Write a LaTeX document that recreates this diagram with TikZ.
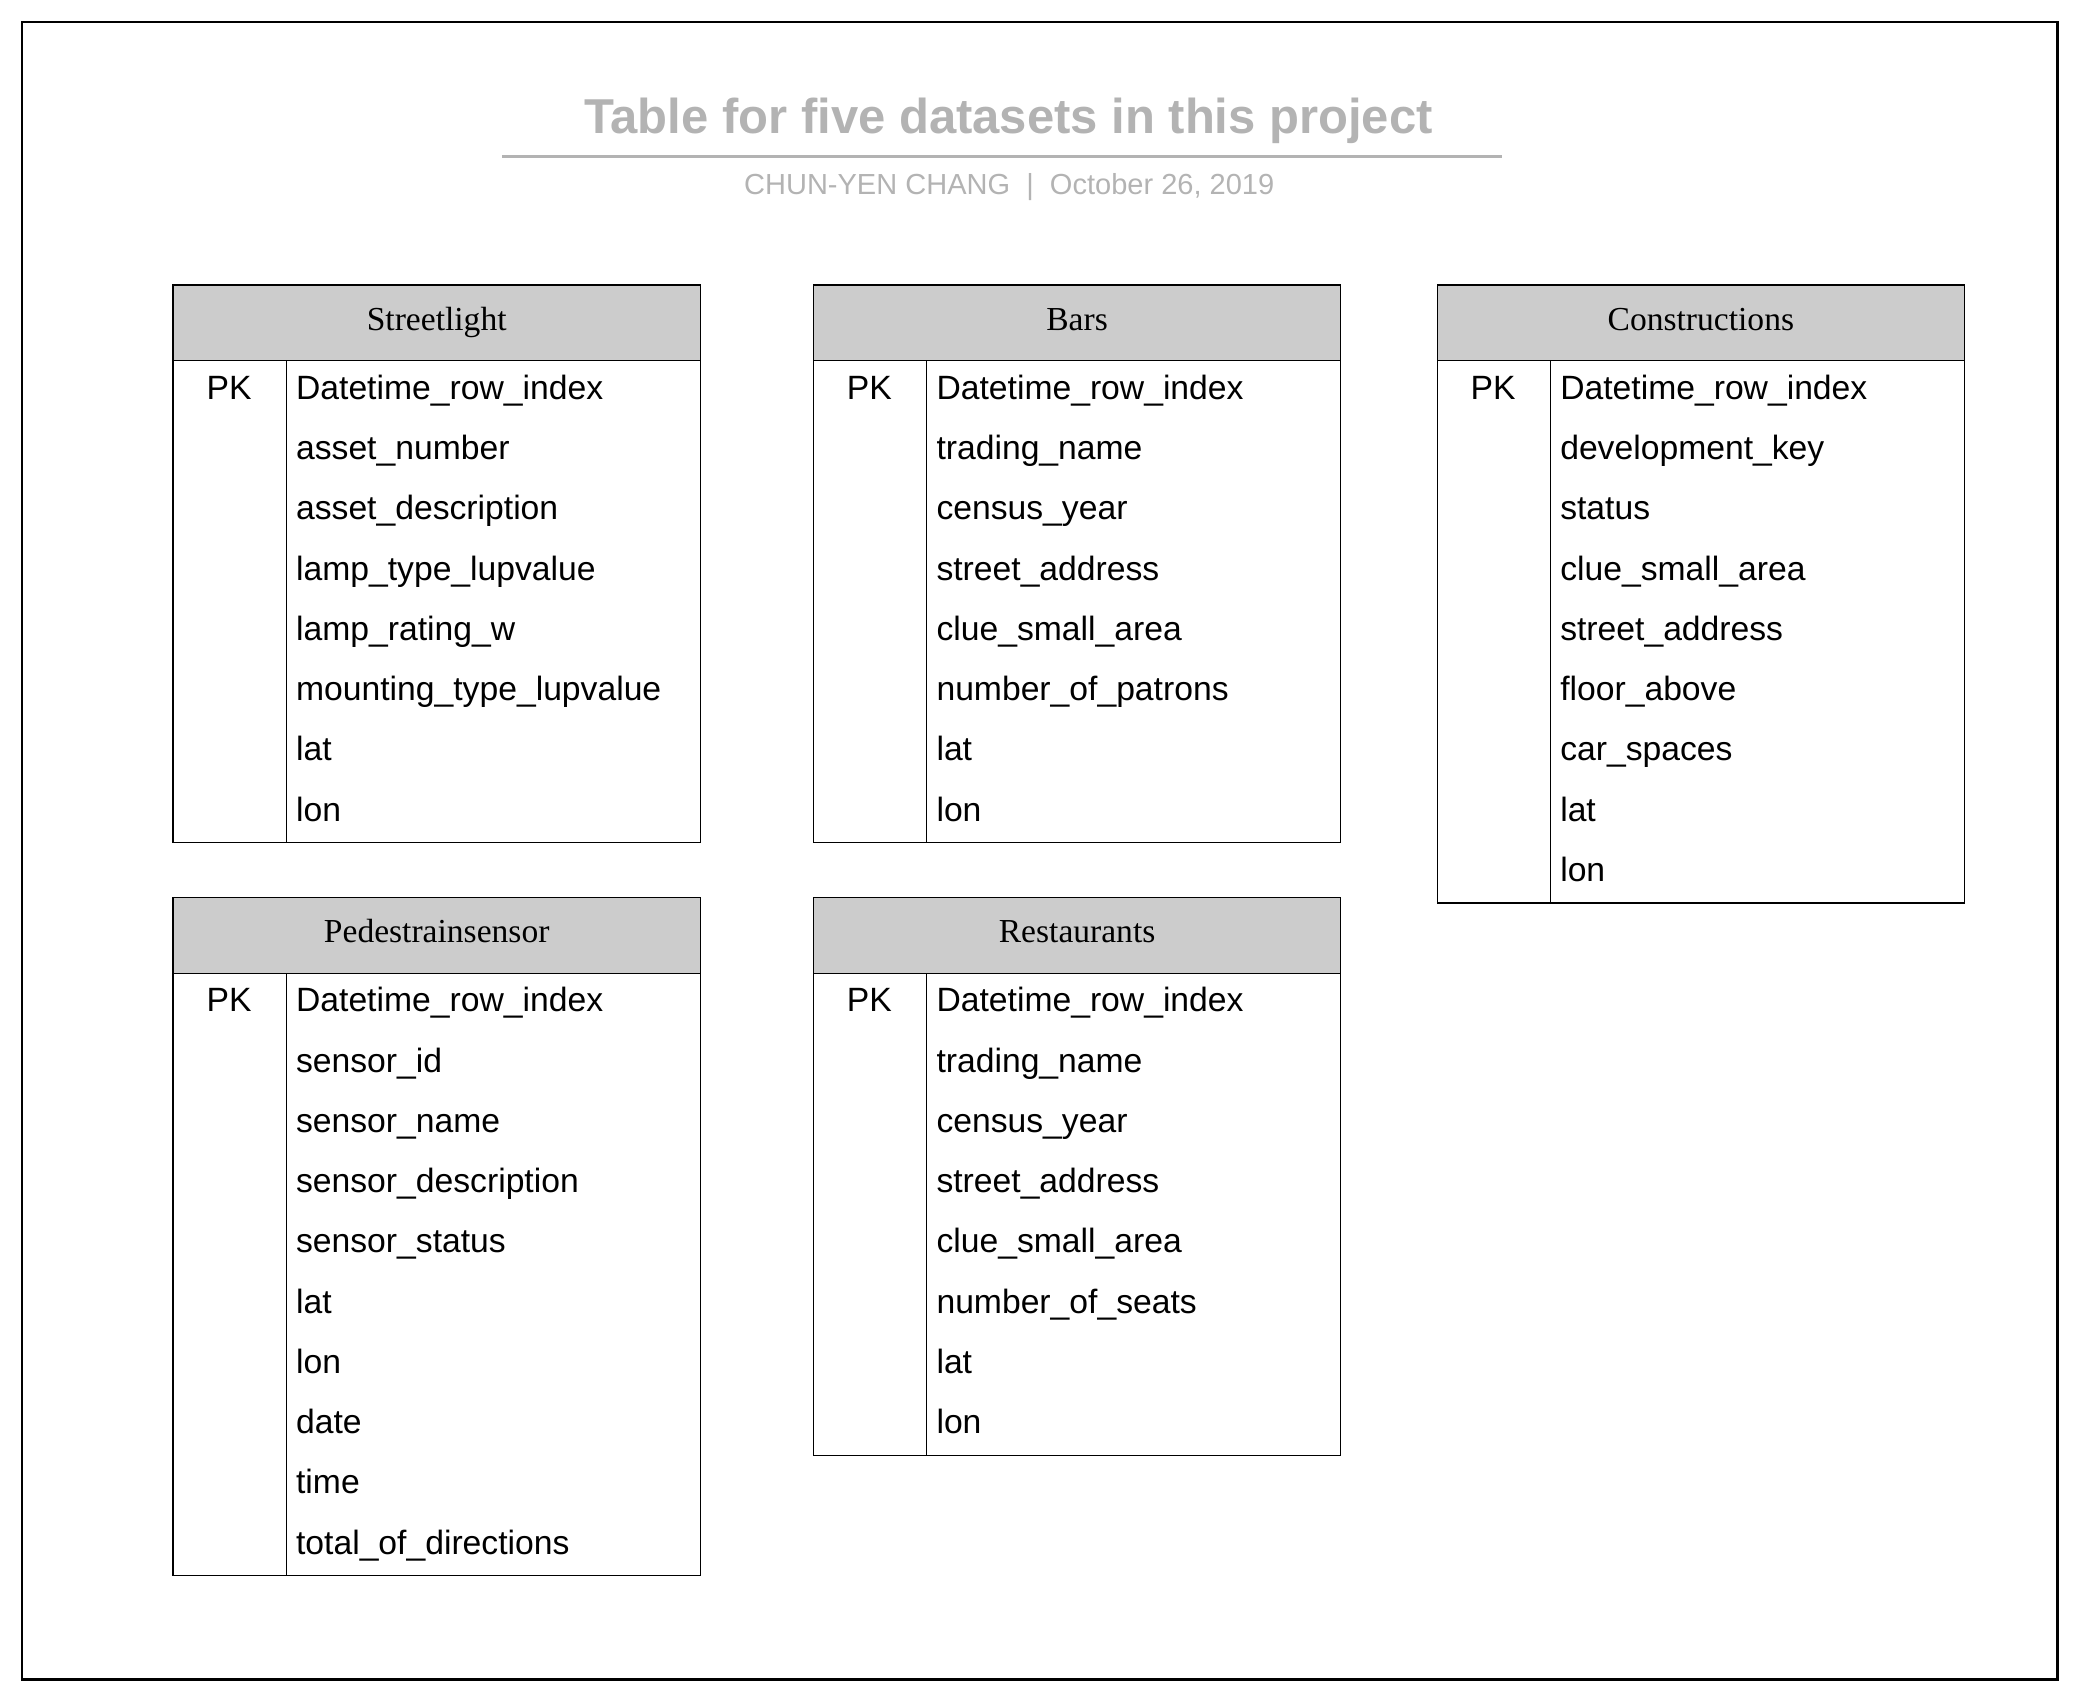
\documentclass[tikz,border=0pt]{standalone}
\usepackage{fontspec}
\setmainfont{Liberation Serif}
\newfontfamily\sansf{Liberation Sans}
\definecolor{hdrgray}{HTML}{CCCCCC}
\definecolor{ttlgray}{HTML}{B3B3B3}
\tikzset{
  hdr/.style={draw=black, fill=hdrgray, line width=0.5pt, minimum width=198pt, minimum height=28.5pt, inner sep=0pt, outer sep=0pt, anchor=north west},
  hdrtext/.style={anchor=base, inner sep=0pt, font=\fontsize{12.6}{14}\selectfont},
  bodybox/.style={draw=black, line width=0.5pt, minimum width=198pt, inner sep=0pt, outer sep=0pt, anchor=north west},
  fld/.style={anchor=base west, inner sep=0pt, font=\sansf\fontsize{12.65}{14}\selectfont},
  pkey/.style={anchor=base, inner sep=0pt, font=\sansf\fontsize{12.65}{14}\selectfont},
  divider/.style={draw=black, line width=0.5pt},
}
% #1 name, #2 x left, #3 y top, #4 title, #5 number of rows, #6 fields
\newcommand\ertable[6]{%
  \node[hdr] (#1-h) at (#2,#3) {};
  \node[hdrtext] (#1-t) at (#2+198,#3+34) {#4};
  \node[bodybox, minimum height=#5*22.625pt] (#1-b) at (#1-h.south west) {};
  \draw[divider] ([xshift=42.5pt]#1-b.north west) -- ([xshift=42.5pt]#1-b.south west);
  \node[pkey] (#1-pk) at (#2+42,#3+57+29) {PK};
  \foreach \f [count=\i from 0] in {#6} {
    \node[fld] (#1-f\i) at (#2+92,#3+57+29+45.25*\i) {\f};
  }
}
\begin{document}
\begin{tikzpicture}[x=0.5pt,y=-0.5pt]
\useasboundingbox (0,0) rectangle (1560,1274.6);
\draw[line width=1.1pt] (16.5,16.5) rectangle (1545.5,1261.5);
\node[anchor=base, inner sep=0pt, text=ttlgray, font=\sansf\bfseries\fontsize{18.4}{22}\selectfont] (title) at (757.5,100) {Table for five datasets in this project};
\draw[ttlgray, line width=1pt] (377,117.5) -- (1128,117.5);
\node[anchor=base, inner sep=0pt, text=ttlgray, font=\sansf\fontsize{10.9}{13}\selectfont] (sub) at (758,146) {CHUN-YEN CHANG\ \ |\ \ October 26, 2019};

\ertable{sl}{130}{214}{Streetlight}{8}{Datetime\_row\_index, asset\_number, asset\_description, lamp\_type\_lupvalue, lamp\_rating\_w, mounting\_type\_lupvalue, lat, lon}
\ertable{bars}{611}{214}{Bars}{8}{Datetime\_row\_index, trading\_name, census\_year, street\_address, clue\_small\_area, number\_of\_patrons, lat, lon}
\ertable{con}{1079.5}{214}{Constructions}{9}{Datetime\_row\_index, development\_key, status, clue\_small\_area, street\_address, floor\_above, car\_spaces, lat, lon}
\ertable{ped}{130}{674}{Pedestrainsensor}{10}{Datetime\_row\_index, sensor\_id, sensor\_name, sensor\_description, sensor\_status, lat, lon, date, time, total\_of\_directions}
\ertable{res}{611}{674}{Restaurants}{8}{Datetime\_row\_index, trading\_name, census\_year, street\_address, clue\_small\_area, number\_of\_seats, lat, lon}
\end{tikzpicture}
\end{document}
